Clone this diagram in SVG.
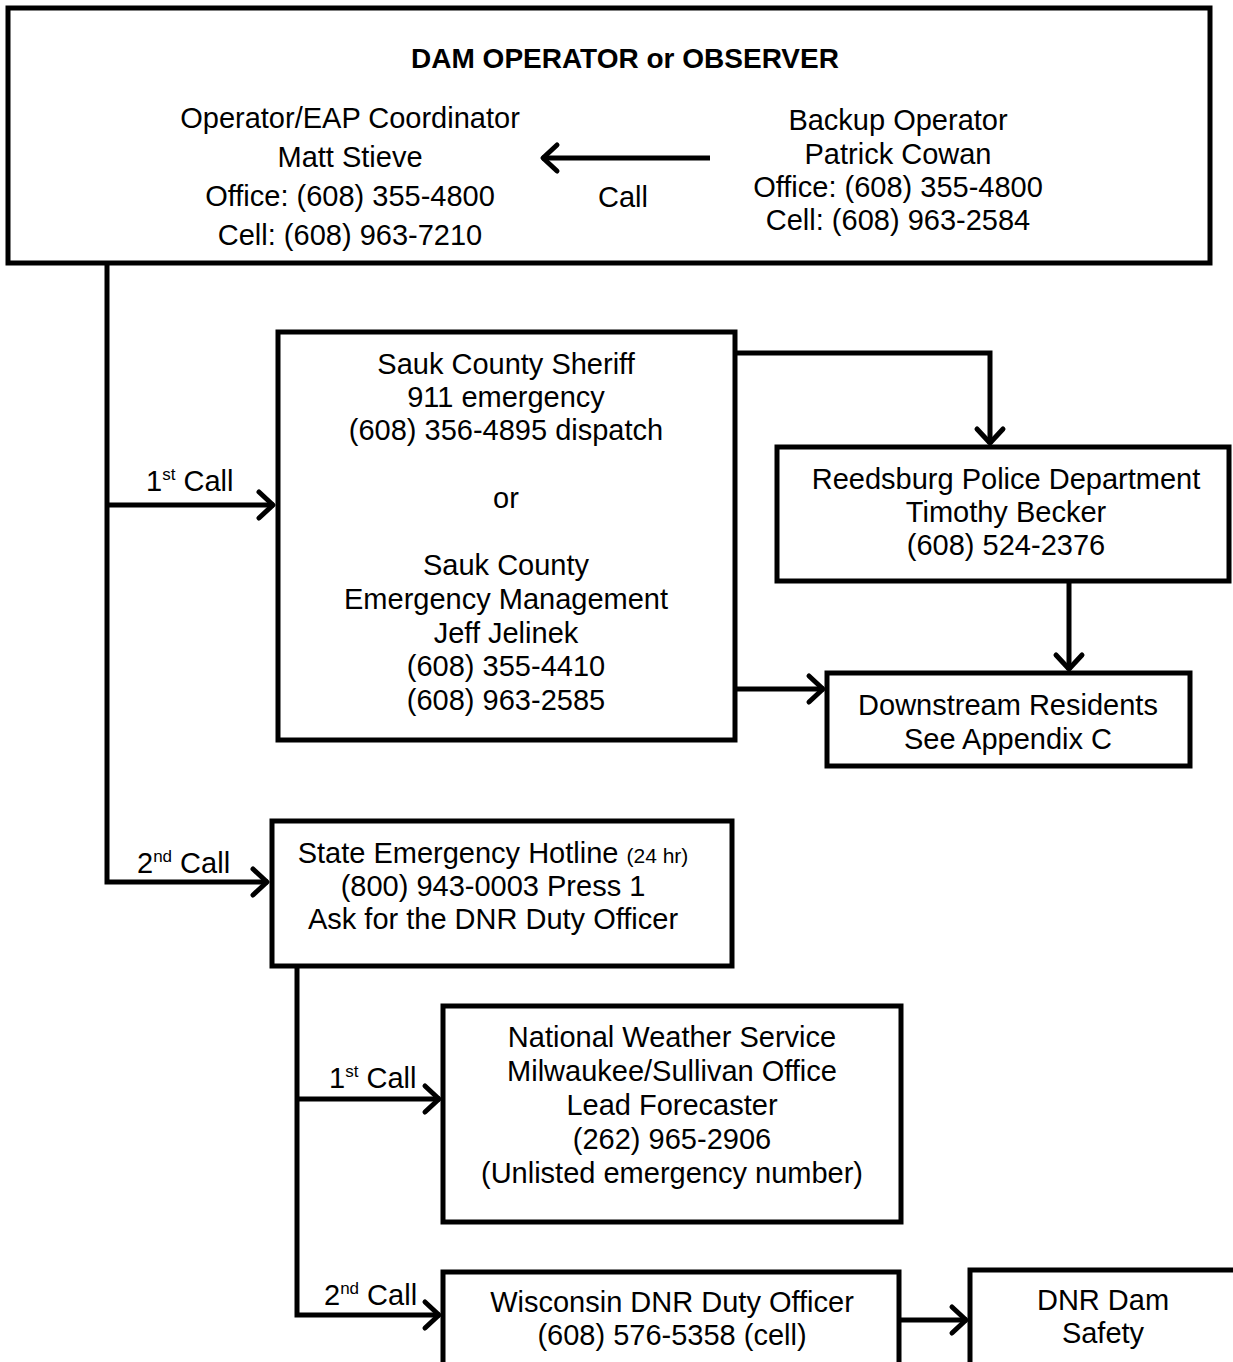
<svg xmlns="http://www.w3.org/2000/svg" width="1233" height="1362" viewBox="0 0 1233 1362">
<style>
text{font-family:"Liberation Sans",Arial,sans-serif;font-size:29px;fill:#000;text-anchor:middle}
.t{font-weight:bold;font-size:28px}
.l{text-anchor:start}
.sup{font-size:17px}
.sm{font-size:21px}
.box{fill:#fff;stroke:#000;stroke-width:5}
.con{fill:none;stroke:#000;stroke-width:5}
</style>
<defs>
<marker id="ah" markerUnits="userSpaceOnUse" viewBox="-22 -18 26 36" refX="0" refY="0" markerWidth="26" markerHeight="36" orient="auto" overflow="visible">
<path d="M-15,-13 L-1,0 L-15,13" fill="none" stroke="#000" stroke-width="5" stroke-linecap="round" stroke-linejoin="round"/>
</marker>
</defs>
<rect width="1233" height="1362" fill="#fff"/>

<g id="dam-operator">
<rect class="box" x="8" y="8" width="1202" height="255"/>
<text class="t" x="625" y="68">DAM OPERATOR or OBSERVER</text>
<text x="350" y="128">Operator/EAP Coordinator</text>
<text x="350" y="167">Matt Stieve</text>
<text x="350" y="206">Office: (608) 355-4800</text>
<text x="350" y="245">Cell: (608) 963-7210</text>
<text x="898" y="130">Backup Operator</text>
<text x="898" y="164">Patrick Cowan</text>
<text x="898" y="197">Office: (608) 355-4800</text>
<text x="898" y="230">Cell: (608) 963-2584</text>
</g>

<g id="sauk-county">
<rect class="box" x="278" y="332" width="457" height="408"/>
<text x="506" y="374">Sauk County Sheriff</text>
<text x="506" y="407">911 emergency</text>
<text x="506" y="440">(608) 356-4895 dispatch</text>
<text x="506" y="508">or</text>
<text x="506" y="575">Sauk County</text>
<text x="506" y="609">Emergency Management</text>
<text x="506" y="643">Jeff Jelinek</text>
<text x="506" y="676">(608) 355-4410</text>
<text x="506" y="710">(608) 963-2585</text>
</g>

<g id="reedsburg-police">
<rect class="box" x="777" y="447" width="452" height="134"/>
<text x="1006" y="489">Reedsburg Police Department</text>
<text x="1006" y="522">Timothy Becker</text>
<text x="1006" y="555">(608) 524-2376</text>
</g>

<g id="downstream-residents">
<rect class="box" x="827" y="673" width="363" height="93"/>
<text x="1008" y="715">Downstream Residents</text>
<text x="1008" y="749">See Appendix C</text>
</g>

<g id="state-hotline">
<rect class="box" x="272" y="821" width="460" height="145"/>
<text x="493" y="863">State Emergency Hotline <tspan class="sm">(24 hr)</tspan></text>
<text x="493" y="896">(800) 943-0003 Press 1</text>
<text x="493" y="929">Ask for the DNR Duty Officer</text>
</g>

<g id="nws">
<rect class="box" x="443" y="1006" width="458" height="216"/>
<text x="672" y="1047">National Weather Service</text>
<text x="672" y="1081">Milwaukee/Sullivan Office</text>
<text x="672" y="1115">Lead Forecaster</text>
<text x="672" y="1149">(262) 965-2906</text>
<text x="672" y="1183">(Unlisted emergency number)</text>
</g>

<g id="wi-dnr-duty">
<rect class="box" x="443" y="1272" width="456" height="120"/>
<text x="672" y="1312">Wisconsin DNR Duty Officer</text>
<text x="672" y="1345">(608) 576-5358 (cell)</text>
</g>

<g id="dnr-dam-safety">
<rect class="box" x="970" y="1270" width="290" height="120"/>
<text x="1103" y="1310">DNR Dam</text>
<text x="1103" y="1343">Safety</text>
</g>

<g id="connectors">
<path class="con" d="M107,265 V882 H268" marker-end="url(#ah)"/>
<path class="con" d="M107,505 H274" marker-end="url(#ah)"/>
<path class="con" d="M710,158 H542" marker-end="url(#ah)"/>
<path class="con" d="M737,353 H990 V444" marker-end="url(#ah)"/>
<path class="con" d="M1069,583 V670" marker-end="url(#ah)"/>
<path class="con" d="M737,689 H824" marker-end="url(#ah)"/>
<path class="con" d="M297,968 V1315 H440" marker-end="url(#ah)"/>
<path class="con" d="M297,1099 H440" marker-end="url(#ah)"/>
<path class="con" d="M901,1320 H967" marker-end="url(#ah)"/>
<text x="623" y="207">Call</text>
<text class="l" x="146" y="491">1<tspan class="sup" dy="-11">st</tspan><tspan dy="11"> Call</tspan></text>
<text class="l" x="137" y="873">2<tspan class="sup" dy="-11">nd</tspan><tspan dy="11"> Call</tspan></text>
<text class="l" x="329" y="1088">1<tspan class="sup" dy="-11">st</tspan><tspan dy="11"> Call</tspan></text>
<text class="l" x="324" y="1305">2<tspan class="sup" dy="-11">nd</tspan><tspan dy="11"> Call</tspan></text>
</g>
</svg>
